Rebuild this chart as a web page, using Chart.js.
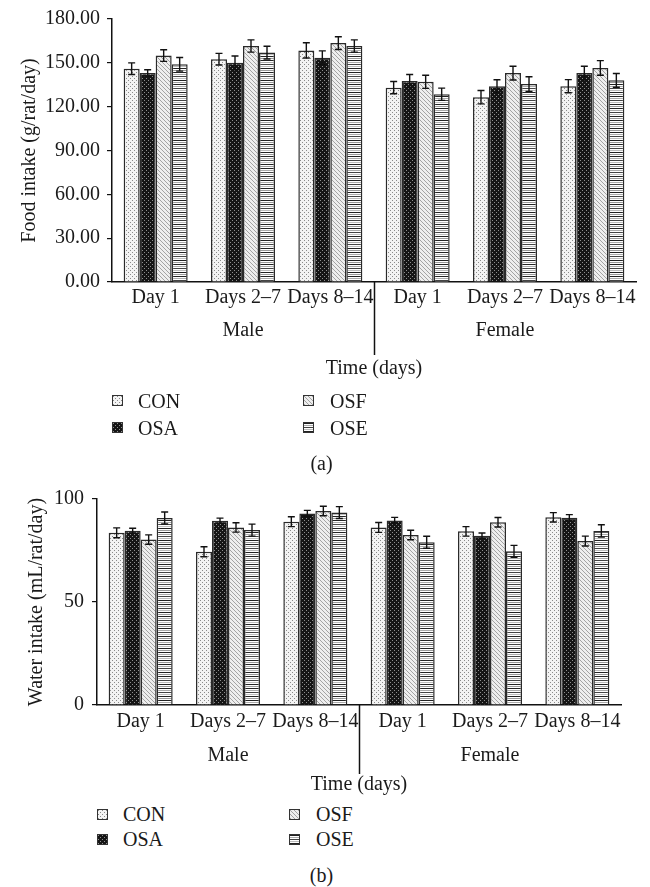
<!DOCTYPE html>
<html><head><meta charset="utf-8">
<script src="https://cdn.jsdelivr.net/npm/chart.js@4.4.1/dist/chart.umd.min.js"></script>
<style>
html,body{margin:0;padding:0;background:#fff;width:650px;height:887px;overflow:hidden;font-family:'Liberation Serif',serif;color:#1a1a1a;}
canvas{position:absolute;left:0;}
.lg{position:absolute;font-size:20px;line-height:24px;height:24px;white-space:nowrap;}
.sw{position:absolute;width:9px;height:9px;border:1px solid #333;image-rendering:pixelated;}
.cap{position:absolute;font-size:20px;line-height:24px;width:60px;text-align:center;}
</style></head><body>
<canvas id="ca" width="650" height="385" style="top:0"></canvas>
<canvas id="cb" width="650" height="330" style="top:472px"></canvas>
<div id="legends"></div>
<script>
// ---- data ----
const categories = ['Day 1','Days 2–7','Days 8–14','Day 1','Days 2–7','Days 8–14'];
const groups = ['Male','Female'];
const seriesNames = ['CON','OSA','OSF','OSE'];

const foodCON = [146, 152.5, 158.5, 133, 126.5, 134];
const foodOSA = [143, 150, 153.5, 137.5, 134, 143];
const foodOSF = [155, 161.5, 163.5, 137, 143, 146.5];
const foodOSE = [149, 157, 161.5, 128.5, 135.5, 138];
const foodErrCON = [4, 4, 5.2, 4.2, 4.6, 4.5];
const foodErrOSA = [2.3, 4.7, 4.7, 4.5, 4.4, 4.7];
const foodErrOSF = [4, 4.2, 4.4, 4.5, 4.7, 5];
const foodErrOSE = [4.7, 4.4, 4.2, 4.2, 5, 4.7];
const foodTicks = [0, 30, 60, 90, 120, 150, 180];

const waterCON = [83.6, 74.4, 89, 86.2, 84.3, 91.1];
const waterOSA = [84.6, 89.5, 93, 89.6, 82.2, 90.9];
const waterOSF = [80.3, 86.2, 94.2, 82.5, 88.7, 79.6];
const waterOSE = [90.8, 84.9, 93.4, 79, 74.6, 84.5];
const waterErrCON = [2.4, 2.4, 2.4, 2.4, 2.3, 2.3];
const waterErrOSA = [1.2, 1.2, 1.5, 1.5, 1.3, 1.5];
const waterErrOSF = [2.3, 2.3, 2.3, 2.3, 2.3, 2.4];
const waterErrOSE = [2.9, 2.9, 2.9, 2.9, 2.9, 3];
const waterTicks = [0, 50, 100];

// ---- patterns ----
function makeTile(kind){
  const c=document.createElement('canvas'); const g=c.getContext('2d');
  if(kind==='CON'){c.width=4;c.height=4;g.fillStyle='#f3f3f3';g.fillRect(0,0,4,4);g.fillStyle='#8a8a8a';g.fillRect(0,0,1,1);g.fillRect(2,2,1,1);}
  else if(kind==='OSA'){c.width=4;c.height=4;g.fillStyle='#151515';g.fillRect(0,0,4,4);g.fillStyle='#8f8f8f';g.fillRect(0,0,1,1);g.fillRect(2,2,1,1);}
  else if(kind==='OSF'){c.width=4;c.height=4;g.fillStyle='#eeeeee';g.fillRect(0,0,4,4);g.fillStyle='#a3a3a3';for(let i=0;i<4;i++)g.fillRect(i,i,1,1);}
  else {c.width=1;c.height=12;const rows=['#222','#fff','#aaa','#fff','#444','#fff','#bbb','#fff','#222','#fff','#999','#fff'];rows.forEach((r,i)=>{g.fillStyle=r;g.fillRect(0,i,1,1);});}
  return c;
}
const tiles = seriesNames.map(makeTile);
const pctx = document.createElement('canvas').getContext('2d');
const patterns = tiles.map(t=>pctx.createPattern(t,'repeat'));

Chart.defaults.font.family = "'Liberation Serif', serif";
Chart.defaults.font.size = 20;
Chart.defaults.color = '#1a1a1a';

function decorPlugin(cfg){
  return {
    id:'decor',
    afterDatasetsDraw(chart){
      const ctx=chart.ctx, y=chart.scales.y;
      ctx.save(); ctx.strokeStyle='#111'; ctx.lineWidth=1.4;
      chart.data.datasets.forEach((ds,di)=>{
        const meta=chart.getDatasetMeta(di);
        meta.data.forEach((bar,i)=>{
          const v=ds.data[i], e=cfg.errors[di][i];
          const yt=y.getPixelForValue(v+e), yb=y.getPixelForValue(v-e);
          ctx.beginPath();
          ctx.moveTo(bar.x,yt); ctx.lineTo(bar.x,yb);
          ctx.moveTo(bar.x-3.5,yt); ctx.lineTo(bar.x+3.5,yt);
          ctx.moveTo(bar.x-3.5,yb); ctx.lineTo(bar.x+3.5,yb);
          ctx.stroke();
        });
      });
      ctx.restore();
    },
    afterDraw(chart){
      const ctx=chart.ctx, x=chart.scales.x, a=chart.chartArea;
      ctx.save();
      const dx=Math.round(x.getPixelForValue(2.5))+0.5;
      ctx.strokeStyle='#111'; ctx.lineWidth=1.5;
      ctx.beginPath(); ctx.moveTo(dx,a.bottom); ctx.lineTo(dx,a.bottom+cfg.divLen); ctx.stroke();
      ctx.fillStyle='#1a1a1a'; ctx.font="20px 'Liberation Serif'";
      ctx.textAlign='center'; ctx.textBaseline='middle';
      ctx.fillText(groups[0], x.getPixelForValue(1), a.bottom+cfg.groupDy);
      ctx.fillText(groups[1], x.getPixelForValue(4), a.bottom+cfg.groupDy);
      ctx.fillText('Time (days)', (a.left+a.right)/2, a.bottom+cfg.titleDy);
      ctx.restore();
    }
  };
}

function makeChart(id,cfg){
  return new Chart(document.getElementById(id),{
    type:'bar',
    data:{labels:categories, datasets:seriesNames.map((n,i)=>({
      label:n, data:cfg.values[i], backgroundColor:patterns[i], borderColor:'#2a2a2a',
      borderWidth:1.5, categoryPercentage:0.733, barPercentage:1
    }))},
    options:{
      responsive:false, animation:false, devicePixelRatio:1,
      layout:{padding:{left:0,right:cfg.padRight,top:cfg.padTop,bottom:0}},
      plugins:{legend:{display:false}, tooltip:{enabled:false}},
      scales:{
        x:{
          grid:{drawOnChartArea:false, drawTicks:false},
          border:{display:true,color:'#111',width:1.5},
          ticks:{padding:cfg.xPad, maxRotation:0, minRotation:0, autoSkip:false},
          afterFit(s){ s.height=cfg.xHeight; }
        },
        y:{
          min:0, max:cfg.ticks[cfg.ticks.length-1],
          afterBuildTicks(s){ s.ticks=cfg.ticks.map(v=>({value:v})); },
          ticks:{padding:cfg.yPad, callback:(v)=>cfg.fmt(v)},
          grid:{drawOnChartArea:false, drawTicks:true, tickLength:5, color:'#111', lineWidth:1.2},
          border:{display:true,color:'#111',width:1.5},
          title:{display:true, text:cfg.yTitle, padding:{top:cfg.titlePad,bottom:0}},
          afterFit(s){ s.width=cfg.yWidth; }
        }
      }
    },
    plugins:[decorPlugin(cfg)]
  });
}

makeChart('ca',{
  values:[foodCON,foodOSA,foodOSF,foodOSE],
  errors:[foodErrCON,foodErrOSA,foodErrOSF,foodErrOSE],
  ticks:foodTicks, fmt:v=>Number(v).toFixed(2),
  yTitle:'Food intake (g/rat/day)',
  yWidth:112, padRight:14, padTop:16, xHeight:103, xPad:4, yPad:7, titlePad:18,
  groupDy:49, divLen:73, titleDy:87
});
makeChart('cb',{
  values:[waterCON,waterOSA,waterOSF,waterOSE],
  errors:[waterErrCON,waterErrOSA,waterErrOSF,waterErrOSE],
  ticks:waterTicks, fmt:v=>String(v),
  yTitle:'Water intake (mL/rat/day)',
  yWidth:97, padRight:29, padTop:27, xHeight:97, xPad:5, yPad:8, titlePad:25,
  groupDy:50.5, divLen:69, titleDy:80
});

// ---- legends and captions (HTML text) ----
const L=document.getElementById('legends');
function legend(rows, colX, textX, caption, capY){
  const order=[[0,2],[1,3]];
  order.forEach((pair,r)=>{
    pair.forEach((si,c)=>{
      const sw=document.createElement('div'); sw.className='sw';
      sw.style.left=colX[c]+'px'; sw.style.top=(rows[r]-5.5)+'px';
      sw.style.backgroundImage='url('+tiles[si].toDataURL()+')';
      L.appendChild(sw);
      const t=document.createElement('div'); t.className='lg';
      t.style.left=textX[c]+'px'; t.style.top=(rows[r]-12)+'px'; t.textContent=seriesNames[si];
      L.appendChild(t);
    });
  });
  const cp=document.createElement('div'); cp.className='cap';
  cp.style.left=(321.5-30)+'px'; cp.style.top=(capY-12)+'px'; cp.textContent=caption;
  L.appendChild(cp);
}
legend([400.5,427.5],[112,303],[138,330],'(a)',463);
legend([814,839],[97,289],[123,316],'(b)',875);
</script>
</body></html>
